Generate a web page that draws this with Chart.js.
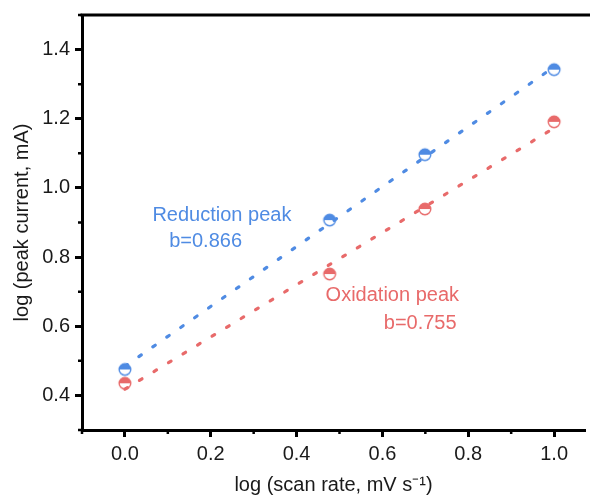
<!DOCTYPE html>
<html><head><meta charset="utf-8">
<script src="https://cdn.jsdelivr.net/npm/chart.js@4"></script>
<style>
html,body{margin:0;padding:0;overflow:hidden;background:#fff}
</style></head>
<body><canvas id="c" width="590" height="497"></canvas>
<script>
// log scan rate (mV/s) for 1, 3, 5, 10 mV/s
const scanRateLog = [0, 0.477, 0.699, 1.0];
const reductionPeak = [0.475, 0.907, 1.096, 1.342];
const oxidationPeak = [0.435, 0.751, 0.939, 1.191];
// linear fits: log i = a + b * log v
const reductionSlope = 0.866, reductionIntercept = 0.484;
const oxidationSlope = 0.755, oxidationIntercept = 0.418;
const fitRange = [0, 1.0];
const xTicks = [0, 0.2, 0.4, 0.6, 0.8, 1.0];
const yTicks = [0.4, 0.6, 0.8, 1.0, 1.2, 1.4];
const xMinor = [-0.1, 0.1, 0.3, 0.5, 0.7, 0.9];
const yMinor = [0.3, 0.5, 0.7, 0.9, 1.1, 1.3, 1.5];

const BLUE = '#4f8be3';
const RED = '#e86a6a';
const FONT = '"Liberation Sans", Arial, sans-serif';

// half-filled circle marker: top half solid, bottom half white
function halfMarker(color) {
  const r = 5.8, s = 16;
  const cv = document.createElement('canvas');
  cv.width = s; cv.height = s;
  const g = cv.getContext('2d');
  const c = s / 2;
  g.fillStyle = '#fff';
  g.beginPath(); g.arc(c, c, r, 0, Math.PI * 2); g.fill();
  g.fillStyle = color;
  g.beginPath(); g.arc(c, c, r, Math.PI, 0); g.closePath(); g.fill();
  g.strokeStyle = color; g.lineWidth = 1.4;
  g.beginPath(); g.arc(c, c, r, 0, Math.PI * 2); g.stroke();
  return cv;
}

const fitLine = (a, b) => fitRange.map(x => ({ x, y: a + b * x }));
const points = ys => scanRateLog.map((x, i) => ({ x, y: ys[i] }));

const notes = [
  { text: 'Reduction peak', x: 0.226, y: 0.92, color: BLUE },
  { text: 'b=' + reductionSlope.toFixed(3), x: 0.188, y: 0.845, color: BLUE },
  { text: 'Oxidation peak', x: 0.623, y: 0.69, color: RED },
  { text: 'b=' + oxidationSlope.toFixed(3), x: 0.688, y: 0.609, color: RED }
];

const framePlugin = {
  id: 'frame',
  afterDraw(chart) {
    const { ctx, chartArea: a, scales: { x, y } } = chart;
    ctx.save();
    ctx.strokeStyle = '#000';
    ctx.lineWidth = 3;
    ctx.beginPath();
    ctx.moveTo(a.left - 1.5, a.top); ctx.lineTo(chart.width, a.top);
    ctx.stroke();
    ctx.lineWidth = 2.5;
    ctx.beginPath();
    xMinor.forEach(v => { const p = x.getPixelForValue(v); ctx.moveTo(p, a.bottom); ctx.lineTo(p, a.bottom + 4); });
    yMinor.forEach(v => { const p = y.getPixelForValue(v); ctx.moveTo(a.left, p); ctx.lineTo(a.left - 4, p); });
    ctx.stroke();
    ctx.font = '20px ' + FONT;
    ctx.textAlign = 'center';
    ctx.textBaseline = 'middle';
    notes.forEach(n => {
      ctx.fillStyle = n.color;
      ctx.fillText(n.text, x.getPixelForValue(n.x), y.getPixelForValue(n.y));
    });
    ctx.restore();
  }
};

new Chart(document.getElementById('c'), {
  type: 'scatter',
  data: {
    datasets: [
      { label: 'Reduction fit', type: 'line', data: fitLine(reductionIntercept, reductionSlope),
        borderColor: BLUE, borderWidth: 3.2, borderDash: [3, 14], borderCapStyle: 'round',
        pointRadius: 0, fill: false },
      { label: 'Oxidation fit', type: 'line', data: fitLine(oxidationIntercept, oxidationSlope),
        borderColor: RED, borderWidth: 3.2, borderDash: [3, 14], borderCapStyle: 'round',
        pointRadius: 0, fill: false },
      { label: 'Reduction peak', data: points(reductionPeak), pointStyle: halfMarker(BLUE) },
      { label: 'Oxidation peak', data: points(oxidationPeak), pointStyle: halfMarker(RED) }
    ]
  },
  options: {
    responsive: false,
    animation: false,
    devicePixelRatio: 1,
    layout: { padding: { top: 15, right: 0, left: 0, bottom: 0 } },
    plugins: { legend: { display: false }, tooltip: { enabled: false } },
    scales: {
      x: {
        type: 'linear', min: -0.1, max: 1.072,
        afterBuildTicks: s => { s.ticks = xTicks.map(v => ({ value: v })); },
        afterFit: s => { s.height = 67; s.paddingLeft = 0; s.paddingRight = 0; },
        border: { display: true, color: '#000', width: 3 },
        grid: { drawOnChartArea: false, drawTicks: true, tickLength: 7, tickWidth: 3, tickColor: '#000' },
        ticks: { font: { family: FONT, size: 20 }, color: '#1a1a1a', padding: 5,
          callback: v => v.toFixed(1) },
        title: { display: true, text: 'log (scan rate, mV s\u207B\u00B9)', font: { family: FONT, size: 20 },
          color: '#1a1a1a', padding: { top: 1, bottom: 0 } }
      },
      y: {
        type: 'linear', min: 0.3, max: 1.5,
        afterBuildTicks: s => { s.ticks = yTicks.map(v => ({ value: v })); },
        afterFit: s => { s.width = 82; s.paddingTop = 0; s.paddingBottom = 0; },
        border: { display: true, color: '#000', width: 3 },
        grid: { drawOnChartArea: false, drawTicks: true, tickLength: 7, tickWidth: 3, tickColor: '#000' },
        ticks: { font: { family: FONT, size: 20 }, color: '#1a1a1a', padding: 5,
          callback: v => v.toFixed(1) },
        title: { display: true, text: 'log (peak current, mA)', font: { family: FONT, size: 20 },
          color: '#1a1a1a', padding: { top: 10, bottom: 0 } }
      }
    }
  },
  plugins: [framePlugin]
});
</script>
</body></html>
